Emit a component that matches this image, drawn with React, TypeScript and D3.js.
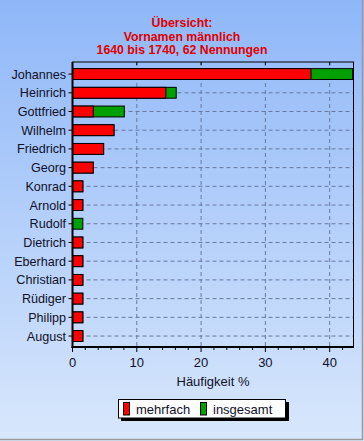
import React from "react";
import * as d3 from "d3";

const names = ["Johannes", "Heinrich", "Gottfried", "Wilhelm", "Friedrich", "Georg", "Konrad", "Arnold", "Rudolf", "Dietrich", "Eberhard", "Christian", "Rüdiger", "Philipp", "August"];
const mehrfach = [37.1, 14.52, 3.23, 6.45, 4.84, 3.23, 1.61, 1.61, 0, 1.61, 1.61, 1.61, 1.61, 1.61, 1.61];
const insgesamt = [43.55, 16.13, 8.06, 6.45, 4.84, 3.23, 1.61, 1.61, 1.61, 1.61, 1.61, 1.61, 1.61, 1.61, 1.61];
const xTicks = [0, 10, 20, 30, 40];
const titleLines = ["Übersicht:", "Vornamen männlich", "1640 bis 1740, 62 Nennungen"];
const seriesNames = ["mehrfach", "insgesamt"];
const seriesColors = ["#ff0000", "#00a000"];

export default function App() {
  const W = 364, H = 441;
  const left = 72.5, right = 353.5, top = 62, bottom = 347;
  const x = d3.scaleLinear().domain([0, 43.55]).range([left, right - 1]);
  const y = d3.scaleBand<string>().domain(names).range([64.7, 345.4]).paddingInner(0.42).paddingOuter(0.21);
  const font = "'Liberation Sans', Arial, sans-serif";
  const minor = d3.range(0, 44, 2);
  const bh = y.bandwidth();
  return (
    <svg width={W} height={H} style={{ position: "absolute", left: 0, top: 0, display: "block" }}>
      <defs>
        <linearGradient id="bg" x1="0" y1="0" x2="0" y2="1">
          <stop offset="0" stopColor="#8fb7f8" />
          <stop offset="1" stopColor="#d8e7fc" />
        </linearGradient>
      </defs>
      <rect x={0} y={0} width={W} height={H} fill="url(#bg)" />
      <line x1={362.5} y1={0} x2={362.5} y2={440} stroke="#9a9a9a" strokeWidth={1.5} />
      <line x1={0} y1={439.5} x2={363} y2={439.5} stroke="#9a9a9a" strokeWidth={1.5} />
      {titleLines.map((t, i) => (
        <text key={t} x={182} y={27 + i * 13.5} textAnchor="middle" fontFamily={font} fontWeight="bold" fontSize={12.3} fill="#e00000">{t}</text>
      ))}
      {names.map((n) => (
        <line key={"h" + n} x1={left} x2={right} y1={y(n)! + bh / 2} y2={y(n)! + bh / 2} stroke="#6878a0" strokeWidth={1} strokeDasharray="4,3" />
      ))}
      {xTicks.slice(1).map((t) => (
        <line key={"v" + t} x1={x(t)} x2={x(t)} y1={top} y2={bottom} stroke="#6878a0" strokeWidth={1} strokeDasharray="4,3" />
      ))}
      {names.map((n, i) => (
        <g key={"b" + n}>
          {insgesamt[i] > 0 && (
            <rect x={x(0)} y={y(n)!} width={x(insgesamt[i]) - x(0)} height={bh} fill={seriesColors[1]} stroke="#000" strokeWidth={1} />
          )}
          {mehrfach[i] > 0 && (
            <rect x={x(0)} y={y(n)!} width={x(mehrfach[i]) - x(0)} height={bh} fill={seriesColors[0]} stroke="#000" strokeWidth={1} />
          )}
        </g>
      ))}
      <rect x={left} y={top} width={right - left} height={bottom - top} fill="none" stroke="#000" strokeWidth={1} />
      <line x1={left} x2={left} y1={top} y2={bottom + 1} stroke="#000" strokeWidth={2} />
      <line x1={left - 1} x2={right + 0.5} y1={bottom} y2={bottom} stroke="#000" strokeWidth={2} />
      {xTicks.slice(1).map((t) => (
        <line key={"tt" + t} x1={x(t)} x2={x(t)} y1={top} y2={top + 3} stroke="#000" strokeWidth={1} />
      ))}
      {minor.map((t) => (
        <line key={"mt" + t} x1={x(t)} x2={x(t)} y1={bottom} y2={bottom + (t % 10 === 0 ? 5 : 3)} stroke="#000" strokeWidth={1} />
      ))}
      {xTicks.map((t) => (
        <text key={"xl" + t} x={x(t)} y={366.5} textAnchor="middle" fontFamily={font} fontSize={13} fill="#101028">{t}</text>
      ))}
      <text x={(left + right) / 2} y={385.5} textAnchor="middle" fontFamily={font} fontSize={13} fill="#101028">Häufigkeit %</text>
      {names.map((n) => (
        <g key={"yl" + n}>
          <line x1={left - 4} x2={left} y1={y(n)! + bh / 2} y2={y(n)! + bh / 2} stroke="#000" strokeWidth={1} />
          <text x={66} y={y(n)! + bh / 2 + 4.5} textAnchor="end" fontFamily={font} fontSize={12.6} fill="#101028">{n}</text>
        </g>
      ))}
      <rect x={121} y={402} width={168} height={19} fill="#000" />
      <rect x={118.5} y={399.5} width={167} height={18.5} fill="#fff" stroke="#000" strokeWidth={1} />
      {seriesNames.map((s, i) => {
        const lx = i === 0 ? 123 : 200;
        return (
          <g key={s}>
            <rect x={lx + 0.5} y={402.5} width={6} height={12.5} fill={seriesColors[i]} stroke="#000" strokeWidth={1} />
            <text x={lx + 13} y={413.8} fontFamily={font} fontSize={13} fill="#101028">{s}</text>
          </g>
        );
      })}
    </svg>
  );
}
